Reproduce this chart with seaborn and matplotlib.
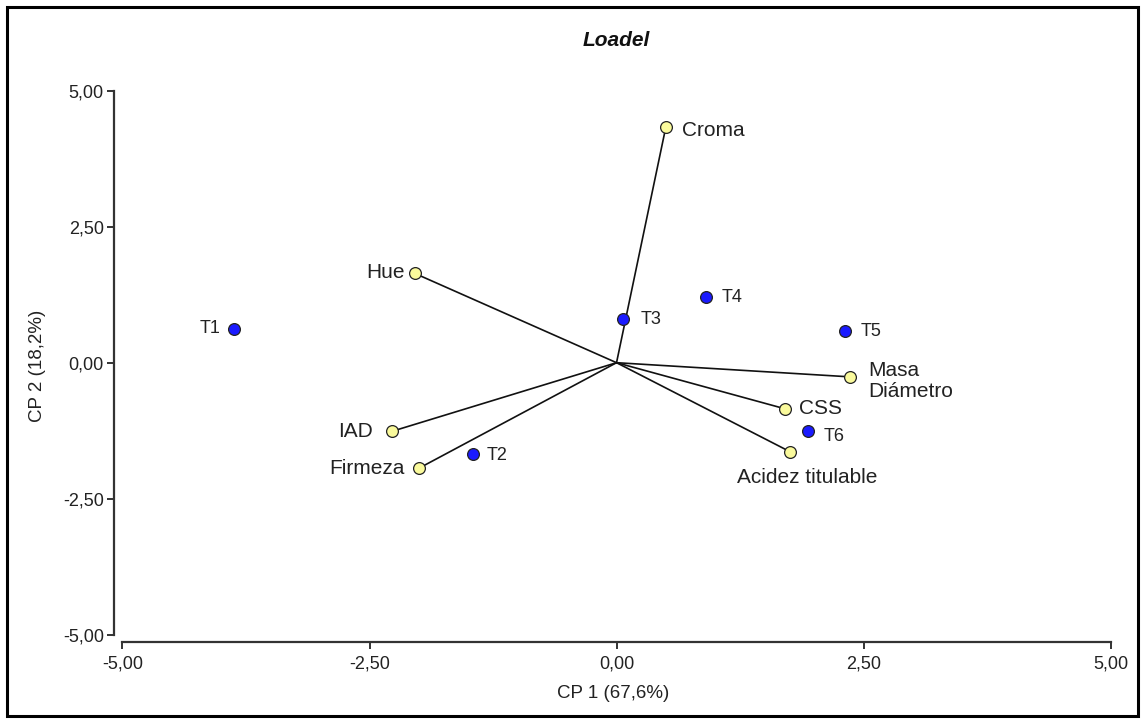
import matplotlib
matplotlib.use("Agg")
import matplotlib.pyplot as plt
import matplotlib.patches as mpatches
import seaborn as sns
import pandas as pd

# Scores of the treatments on the first two principal components
treatments = ["T1", "T2", "T3", "T4", "T5", "T6"]
treat_cp1 = [-3.87, -1.45, 0.07, 0.91, 2.31, 1.94]
treat_cp2 = [0.62, -1.67, 0.80, 1.20, 0.59, -1.26]

# Loadings of the measured variables
variables = ["Croma", "Hue", "Masa\nDiámetro", "CSS", "Acidez titulable", "IAD", "Firmeza"]
var_cp1 = [0.50, -2.04, 2.36, 1.71, 1.76, -2.27, -2.00]
var_cp2 = [4.34, 1.64, -0.26, -0.85, -1.64, -1.26, -1.94]

ticks = [-5.0, -2.5, 0.0, 2.5, 5.0]
tick_labels = ["-5,00", "-2,50", "0,00", "2,50", "5,00"]

sns.set_style("white")
plt.rcParams["font.family"] = ["Liberation Sans", "DejaVu Sans"]

fig = plt.figure(figsize=(11.44, 7.2), dpi=100)
ax = fig.add_axes([0.0993, 0.1086, 0.8732, 0.767])

df_t = pd.DataFrame({"cp1": treat_cp1, "cp2": treat_cp2, "name": treatments})
df_v = pd.DataFrame({"cp1": var_cp1, "cp2": var_cp2, "name": variables})

# Loading vectors from the origin
for x, y in zip(var_cp1, var_cp2):
    ax.plot([0, x], [0, y], color="#111111", lw=1.2, zorder=1)

sns.scatterplot(data=df_v, x="cp1", y="cp2", ax=ax, s=72, color="#fafa9c",
                edgecolor="#222222", linewidth=0.9, zorder=3, legend=False)
sns.scatterplot(data=df_t, x="cp1", y="cp2", ax=ax, s=72, color="#1a1aff",
                edgecolor="#222222", linewidth=0.9, zorder=3, legend=False)

# Label placement (pixel offsets, alignment)
var_place = {
    "Croma": ((16, -4), "left", "center"),
    "Hue": ((-10, 1), "right", "center"),
    "Masa\nDiámetro": ((19, -4), "left", "center"),
    "CSS": ((14, 0), "left", "center"),
    "Acidez titulable": ((17, -26), "center", "center"),
    "IAD": ((-19, 0), "right", "center"),
    "Firmeza": ((-14, 0), "right", "center"),
}
for name, x, y in zip(variables, var_cp1, var_cp2):
    off, ha, va = var_place[name]
    ax.annotate(name, (x, y), xytext=off, textcoords="offset pixels",
                ha=ha, va=va, fontsize=15, color="#222222", linespacing=1.12)

treat_place = {
    "T1": ((-14, 0), "right"),
    "T2": ((13, -2), "left"),
    "T3": ((17, 0), "left"),
    "T4": ((15, 0), "left"),
    "T5": ((16, -1), "left"),
    "T6": ((15, -5), "left"),
}
for name, x, y in zip(treatments, treat_cp1, treat_cp2):
    off, ha = treat_place[name]
    ax.annotate(name, (x, y), xytext=off, textcoords="offset pixels",
                ha=ha, va="center", fontsize=13, color="#222222")

ax.set_xlim(-5.09, 5.02)
ax.set_ylim(-5.13, 5.02)
ax.set_xticks(ticks)
ax.set_xticklabels(tick_labels)
ax.set_yticks(ticks)
ax.set_yticklabels(tick_labels)

for side in ("top", "right"):
    ax.spines[side].set_visible(False)
for side in ("left", "bottom"):
    ax.spines[side].set_color("#333333")
    ax.spines[side].set_linewidth(1.6)
ax.spines["left"].set_bounds(-5, 5)
ax.spines["bottom"].set_bounds(-5, 5)
ax.tick_params(axis="both", direction="out", length=5, width=1.4, color="#333333",
               labelsize=13, labelcolor="#222222", left=True, bottom=True)
ax.tick_params(axis="x", pad=5)
ax.tick_params(axis="y", pad=2)

ax.set_xlabel("CP 1 (67,6%)", fontsize=13.5, color="#222222", labelpad=9)
ax.set_ylabel("CP 2 (18,2%)", fontsize=13.5, color="#222222", labelpad=12)
fig.text(616 / 1144, 1 - 40 / 720, "Loadel", ha="center", va="center",
         fontsize=15, fontweight="bold", fontstyle="italic", color="#111111")

# Outer frame
fig.patches.append(mpatches.Rectangle((7 / 1144, 4 / 720), 1131 / 1144, 709 / 720,
                                      transform=fig.transFigure, fill=False,
                                      edgecolor="black", lw=2.2))

fig.savefig("out.png", dpi=100)
